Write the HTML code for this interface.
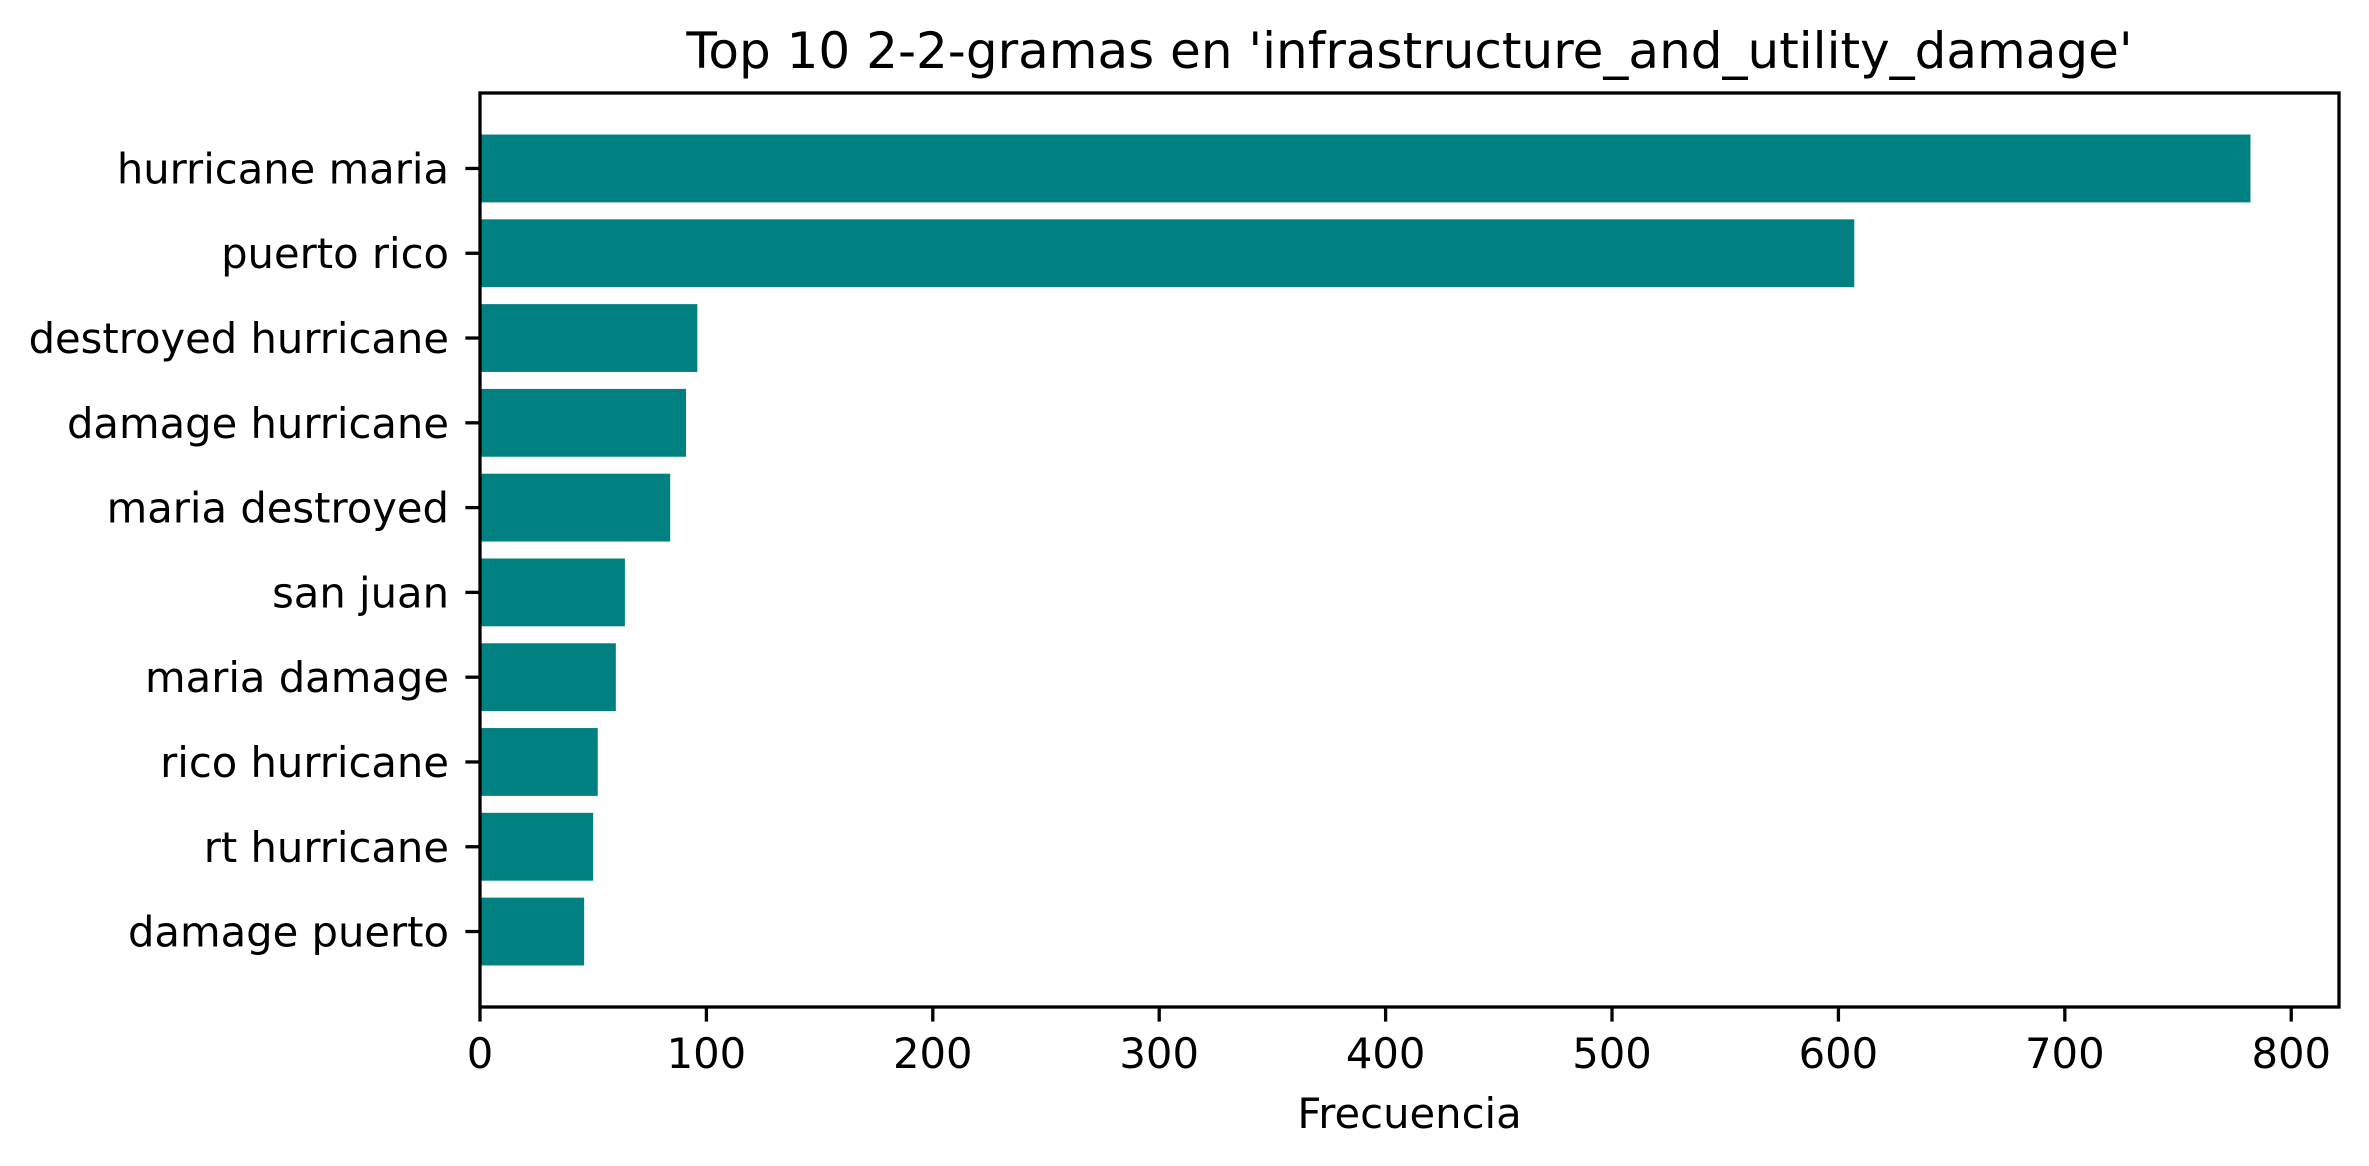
<!DOCTYPE html>
<html><head><meta charset="utf-8"><style>
html,body{margin:0;padding:0;background:#fff;}
svg{display:block;font-family:"DejaVu Sans","Liberation Sans",sans-serif;}
</style></head><body>
<svg id="chart" width="2369" height="1166" viewBox="0 0 2369 1166" xmlns="http://www.w3.org/2000/svg">
<rect width="2369" height="1166" fill="#fff"/>
<text x="1409.5" y="68" font-size="50" text-anchor="middle" fill="#000">Top 10 2-2-gramas en 'infrastructure_and_utility_damage'</text>
<g id="bars"></g>
<g id="yticks"></g>
<g id="xticks"></g>
<rect x="480" y="93" width="1859" height="914" fill="none" stroke="#000" stroke-width="3.3"/>
<text x="1409.5" y="1128" font-size="41.7" text-anchor="middle" fill="#000">Frecuencia</text>
</svg>
<script>
const categories = ["hurricane maria","puerto rico","destroyed hurricane","damage hurricane","maria destroyed","san juan","maria damage","rico hurricane","rt hurricane","damage puerto"];
const values = [782, 607, 96, 91, 84, 64, 60, 52, 50, 46];
const xTickValues = [0, 100, 200, 300, 400, 500, 600, 700, 800];
const xTickLabels = ["0","100","200","300","400","500","600","700","800"];

const NS = "http://www.w3.org/2000/svg";
const plotLeft = 480, plotRight = 2339, plotTop = 93, plotBottom = 1007;
const xMax = Math.max(...values) * 1.05;
const xScale = v => plotLeft + (v / xMax) * (plotRight - plotLeft);
const nCats = categories.length;
const span = (nCats - 1 + 0.8);
const yMin = -0.4 - span * 0.05, yMax = nCats - 1 + 0.4 + span * 0.05;
const slot = (plotBottom - plotTop) / (yMax - yMin);
const yScale = i => plotTop + (i - yMin) * slot;
const barH = slot * 0.8;

const barsG = document.getElementById('bars');
const yG = document.getElementById('yticks');
const xG = document.getElementById('xticks');

categories.forEach((c, i) => {
  const cy = yScale(i);
  const r = document.createElementNS(NS, 'rect');
  
  
  r.setAttribute('x', xScale(0));
  r.setAttribute('y', cy - barH / 2);
  r.setAttribute('width', xScale(values[i]) - xScale(0));
  r.setAttribute('height', barH);
  r.setAttribute('fill', '#008080');
  barsG.appendChild(r);

  const t = document.createElementNS(NS, 'line');
  
  
  t.setAttribute('x1', plotLeft - 14.6); t.setAttribute('x2', plotLeft);
  t.setAttribute('y1', cy); t.setAttribute('y2', cy);
  t.setAttribute('stroke', '#000'); t.setAttribute('stroke-width', '3.3');
  yG.appendChild(t);

  const lb = document.createElementNS(NS, 'text');
  
  
  lb.setAttribute('x', 449);
  lb.setAttribute('y', cy + 15);
  lb.setAttribute('font-size', '41.7');
  lb.setAttribute('text-anchor', 'end');
  lb.textContent = c;
  yG.appendChild(lb);
});

xTickValues.forEach((v, i) => {
  const x = xScale(v);
  const t = document.createElementNS(NS, 'line');
  
  
  t.setAttribute('x1', x); t.setAttribute('x2', x);
  t.setAttribute('y1', plotBottom); t.setAttribute('y2', plotBottom + 14.6);
  t.setAttribute('stroke', '#000'); t.setAttribute('stroke-width', '3.3');
  xG.appendChild(t);

  const lb = document.createElementNS(NS, 'text');
  
  
  lb.setAttribute('x', x);
  lb.setAttribute('y', 1068);
  lb.setAttribute('font-size', '41.7');
  lb.setAttribute('text-anchor', 'middle');
  lb.textContent = xTickLabels[i];
  xG.appendChild(lb);
});
</script>
</body></html>
